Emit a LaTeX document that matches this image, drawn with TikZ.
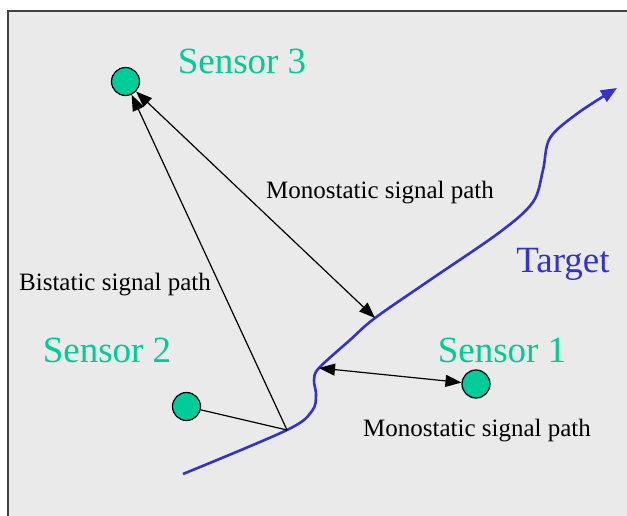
\documentclass[tikz,border=0pt]{standalone}
\usepackage{fontspec}
\setmainfont{Liberation Serif}
\usepackage{tikz}
\usetikzlibrary{arrows.meta,positioning}
\definecolor{sensorgreen}{HTML}{00CC99}
\definecolor{targetblue}{HTML}{3333CC}
\definecolor{panel}{HTML}{EAEAEA}
\definecolor{frameline}{HTML}{404040}
\tikzset{
  sensor/.style={
    circle,
    draw=black,
    line width=1.2pt,
    fill=sensorgreen,
    minimum size=28pt,
    inner sep=0pt
  },
  sensorlabel/.style={
    font=\fontsize{37pt}{40pt}\selectfont,
    text=sensorgreen,
    inner sep=0pt
  },
  targetlabel/.style={
    sensorlabel,
    text=targetblue
  },
  pathlabel/.style={
    font=\fontsize{25pt}{28pt}\selectfont,
    text=black,
    inner sep=0pt
  },
  sig/.style={
    draw=black,
    line width=1.2pt
  },
  sigarrow/.style={
    sig,
    {Triangle[length=16pt,width=12pt]}-{Triangle[length=16pt,width=12pt]}
  },
  sigback/.style={
    sig,
    {Triangle[length=16pt,width=12pt]}-
  },
  track/.style={
    draw=targetblue,
    line width=2.6pt,
    -{Triangle[length=16pt,width=13pt]}
  }
}

\begin{document}
\begin{tikzpicture}[x=1pt,y=-1pt]
  \useasboundingbox (0,0) rectangle (627,516);

  %====================================================================
  % Panel
  %====================================================================
  \fill[panel] (8,11) rectangle (627,516);
  \draw[frameline, line width=1.5pt] (8,516) -- (8,11) -- (627,11);

  %====================================================================
  % Sensors and their labels
  %====================================================================
  \node[sensor] (s3) at (125.5,81.5) {};
  \node[sensor] (s2) at (186.5,406.5) {};
  \node[sensor] (s1) at (476,384) {};

  \node[sensorlabel] (s3label) at (242,61) {Sensor 3};
  \node[sensorlabel] (s2label) at (107,350) {Sensor 2};
  \node[sensorlabel] (s1label) at (502,350) {Sensor 1};
  \node[targetlabel] (tlabel)  at (563,264) {Target};

  %====================================================================
  % Target track -- reflection points are named so the signal
  % paths can end on them.
  %====================================================================
  \coordinate (hitbi)    at (287,430);
  \coordinate (hitmonoa) at (375,318);
  \coordinate (hitmonob) at (319,368);

  \draw[track] plot[smooth, tension=0.55] coordinates {
    (183,474) (hitbi) (312,411) (316,395) (314,380) (hitmonob)
    (350,340) (hitmonoa) (430,280) (500,232) (533,202) (543,170)
    (550,138) (578,113) (617,88)};

  %====================================================================
  % Signal paths
  %====================================================================
  \draw[sigarrow] (s3) -- (hitmonoa);
  \draw[sigback]  (s3) -- (hitbi);
  \draw[sig]      (s2) -- (hitbi);
  \draw[sigarrow] (hitmonob) -- (s1);

  \node[pathlabel] (lmonoa) at (380,193) {Monostatic signal path};
  \node[pathlabel] (lbi)    at (115,285) {Bistatic signal path};
  \node[pathlabel] (lmonob) at (477,431) {Monostatic signal path};

\end{tikzpicture}
\end{document}
